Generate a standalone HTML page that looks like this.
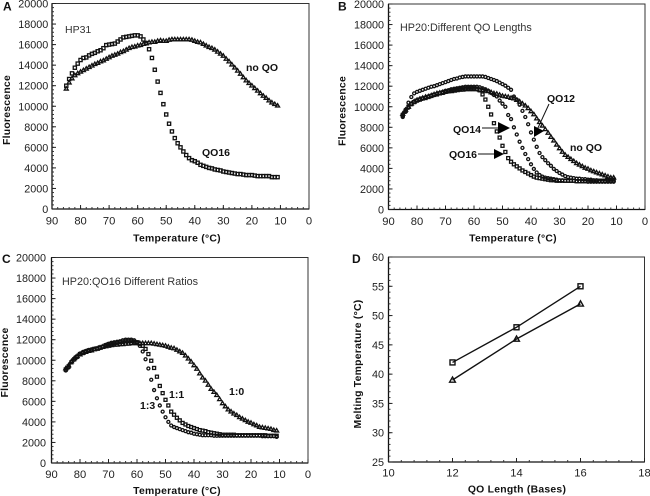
<!DOCTYPE html>
<html>
<head>
<meta charset="utf-8">
<title>Fluorescence melting curves</title>
<style>
html,body{margin:0;padding:0;background:#fff}
svg{display:block;font-family:"Liberation Sans",Arial,sans-serif;filter:blur(0.3px)}
</style>
</head>
<body>
<svg id="figure" width="650" height="496" viewBox="0 0 650 496" xmlns="http://www.w3.org/2000/svg"></svg>
<script>
const temperatures = [85,84,83,82,81,80,79,78,77,76,75,74,73,72,71,70,69,68,67,66,65,64,63,62,61,60,59,58,57,56,55,54,53,52,51,50,49,48,47,46,45,44,43,42,41,40,39,38,37,36,35,34,33,32,31,30,29,28,27,26,25,24,23,22,21,20,19,18,17,16,15,14,13,12,11];
const fluorescenceTicks = [0,2000,4000,6000,8000,10000,12000,14000,16000,18000,20000];
const temperatureTicks = [90,80,70,60,50,40,30,20,10,0];

const hp31NoQo = [11700,12300,12700,13000,13200,13350,13500,13650,13800,13950,14100,14200,14350,14450,14600,14750,14900,15000,15100,15250,15350,15500,15650,15750,15800,15900,15950,16050,16100,16200,16250,16250,16350,16400,16350,16350,16450,16500,16500,16500,16500,16500,16500,16500,16450,16350,16250,16200,16050,15900,15750,15650,15500,15300,15100,14900,14600,14350,14050,13750,13450,13150,12800,12500,12250,12000,11750,11500,11250,11000,10800,10550,10350,10200,10050];
const hp31Qo16 = [12000,12650,13200,13750,14150,14500,14700,14750,14950,15100,15200,15350,15450,15650,15950,16000,16050,16100,16300,16500,16700,16750,16800,16850,16900,16900,16800,16500,16150,15550,14700,13550,12400,11300,10200,9200,8300,7550,6900,6400,6000,5600,5250,4950,4750,4650,4500,4300,4200,4100,4000,3950,3850,3800,3750,3650,3600,3550,3500,3450,3400,3400,3350,3300,3300,3300,3250,3200,3200,3200,3200,3200,3100,3100,3100];

const hp20NoQo = [9300,9700,10000,10300,10500,10650,10750,10850,10950,11000,11100,11200,11300,11350,11400,11450,11500,11500,11550,11600,11650,11650,11700,11700,11700,11700,11700,11650,11600,11550,11500,11400,11300,11250,11150,11050,11000,10950,10850,10800,10650,10500,10300,10100,9850,9550,9250,8850,8500,8150,7800,7450,7050,6700,6300,5950,5600,5300,5100,4900,4700,4500,4350,4200,4050,3950,3800,3700,3600,3500,3400,3300,3200,3100,3100];
const hp20Qo12 = [9100,9700,10400,10950,11300,11450,11550,11650,11750,11850,11950,12000,12100,12200,12300,12400,12500,12600,12700,12750,12850,12900,12950,12950,12950,12950,12950,12950,12950,12900,12800,12700,12600,12500,12350,12200,12050,11850,11650,11000,10700,10200,9600,9000,8300,7500,6800,6100,5500,5100,4800,4500,4250,3950,3750,3550,3400,3250,3150,3100,3050,3000,3000,2950,2950,2900,2900,2850,2850,2800,2800,2800,2750,2750,2750];
const hp20Qo14 = [9000,9500,9900,10300,10500,10600,10700,10800,10900,11000,11050,11150,11250,11350,11450,11550,11600,11700,11750,11800,11850,11900,11950,11950,11950,11950,11950,11900,11800,11700,11550,11350,11150,11000,10600,10300,10000,9200,8800,8000,7300,6600,6000,5400,4900,4400,3950,3600,3350,3200,3100,3050,3000,2950,2900,2850,2850,2800,2800,2800,2800,2750,2750,2750,2750,2700,2700,2700,2700,2700,2700,2700,2700,2700,2700];
const hp20Qo16 = [9200,9600,10000,10250,10450,10600,10700,10800,10850,10950,11050,11150,11200,11300,11350,11450,11500,11600,11650,11700,11750,11800,11800,11850,11850,11800,11750,11600,11200,10700,10000,9250,8400,7600,7000,6200,5600,5000,4650,4400,4200,4000,3800,3650,3500,3350,3200,3100,3050,3000,2950,2900,2850,2850,2800,2800,2800,2800,2800,2800,2800,2750,2750,2750,2750,2750,2800,2800,2800,2800,2800,2800,2850,2900,2900];

const ratio10 = [9200,9500,9900,10200,10400,10550,10700,10800,10900,10950,11050,11100,11200,11300,11350,11400,11450,11500,11500,11550,11550,11600,11600,11650,11650,11650,11650,11650,11650,11650,11650,11600,11550,11500,11450,11400,11300,11200,11150,11000,10850,10700,10450,10150,9850,9500,9150,8700,8300,8000,7600,7200,6900,6600,6200,5800,5500,5200,5000,4800,4650,4450,4300,4150,4000,3900,3750,3650,3500,3450,3400,3350,3300,3200,3150];
const ratio11 = [9100,9400,9800,10100,10350,10600,10700,10850,10950,11000,11100,11150,11250,11300,11450,11550,11600,11650,11700,11750,11800,11850,11850,11850,11800,11750,11600,11400,11100,10600,9950,9250,8400,7500,6800,6150,5600,5000,4700,4400,4150,3900,3750,3600,3500,3400,3300,3200,3150,3100,3000,2950,2900,2850,2800,2750,2750,2750,2750,2750,2700,2700,2700,2700,2700,2700,2700,2700,2700,2700,2700,2650,2650,2650,2650];
const ratio13 = [9000,9300,9800,10050,10300,10650,10800,10900,11000,11050,11100,11150,11200,11350,11500,11600,11700,11750,11800,11850,11950,12000,12000,12000,11950,11750,11400,10850,10100,9200,8100,7100,6300,5600,5000,4450,4000,3650,3500,3400,3300,3200,3100,3000,2950,2850,2800,2750,2700,2700,2700,2700,2650,2650,2650,2650,2650,2650,2650,2650,2650,2650,2650,2650,2650,2650,2650,2650,2650,2600,2600,2600,2600,2600,2550];

const qoLengths = [12,14,16];
const meltingSquares = [42,48,55];
const meltingTriangles = [39,46,52];
const lengthTicks = [10,12,14,16,18];
const meltingTicks = [25,30,35,40,45,50,55,60];

const NS = 'http://www.w3.org/2000/svg';
const fig = document.getElementById('figure');
const INK = '#111';

function add(parent, tag, attrs, text) {
  const el = document.createElementNS(NS, tag);
  for (const k in attrs) el.setAttribute(k, attrs[k]);
  if (text !== undefined) el.textContent = text;
  parent.appendChild(el);
  return el;
}

function drawMarker(g, shape, x, y, s, w) {
  let m;
  if (shape === 'square') {
    m = add(g, 'rect', {x: x - s, y: y - s, width: 2 * s, height: 2 * s, fill: 'none', stroke: INK, 'stroke-width': w});
  } else if (shape === 'triangle') {
    m = add(g, 'path', {d: `M${x} ${y - s - 0.5}L${x + s + 0.4} ${y + s - 0.3}L${x - s - 0.4} ${y + s - 0.3}Z`, fill: 'none', stroke: INK, 'stroke-width': w});
  } else {
    m = add(g, 'circle', {cx: x, cy: y, r: s, fill: 'none', stroke: INK, 'stroke-width': w});
  }
  
  
}

function drawPanel(cfg) {
  const p = add(fig, 'g', {});
  
  
  const sx = v => cfg.x0 + (v - cfg.xMin) / (cfg.xMax - cfg.xMin) * (cfg.x1 - cfg.x0);
  const sy = v => cfg.y1 - (v - cfg.yMin) / (cfg.yMax - cfg.yMin) * (cfg.y1 - cfg.y0);

  const frame = add(p, 'rect', {x: cfg.x0, y: cfg.y0, width: cfg.x1 - cfg.x0, height: cfg.y1 - cfg.y0, fill: '#fff', stroke: '#333', 'stroke-width': 1});
  
  
  const axisX = add(p, 'line', {x1: cfg.x0, x2: cfg.x1, y1: cfg.y1, y2: cfg.y1, stroke: '#111', 'stroke-width': 1.3});
  
  
  const axisY = add(p, 'line', {x1: cfg.x0, x2: cfg.x0, y1: cfg.y0, y2: cfg.y1, stroke: '#111', 'stroke-width': 1.3});
  
  

  for (let i = 0; i <= cfg.xMinorCount; i++) {
    const v = cfg.xMin + (cfg.xMax - cfg.xMin) * i / cfg.xMinorCount;
    add(p, 'line', {x1: sx(v), x2: sx(v), y1: cfg.y1, y2: cfg.y1 - 2, stroke: '#333', 'stroke-width': 1});
  }
  for (let i = 0; i <= cfg.yMinorCount; i++) {
    const v = cfg.yMin + (cfg.yMax - cfg.yMin) * i / cfg.yMinorCount;
    add(p, 'line', {x1: cfg.x0, x2: cfg.x0 + 2, y1: sy(v), y2: sy(v), stroke: '#333', 'stroke-width': 1});
  }
  cfg.xTicks.forEach(v => {
    add(p, 'line', {x1: sx(v), x2: sx(v), y1: cfg.y1, y2: cfg.y1 - 4, stroke: '#222', 'stroke-width': 1});
    const t = add(p, 'text', {x: sx(v), y: cfg.y1 + cfg.tickGap, 'text-anchor': 'middle', 'font-size': 11.2, fill: '#222'}, String(v));
    
    
  });
  cfg.yTicks.forEach(v => {
    add(p, 'line', {x1: cfg.x0, x2: cfg.x0 + 4, y1: sy(v), y2: sy(v), stroke: '#222', 'stroke-width': 1});
    const t = add(p, 'text', {x: cfg.x0 - cfg.yLabelGap, y: sy(v) + 4, 'text-anchor': 'end', 'font-size': 10.8, fill: '#222'}, String(v));
    
    
  });

  const xt = add(p, 'text', {x: cfg.xTitleX, y: cfg.xTitleY, 'text-anchor': 'middle', 'font-size': 10.4, 'font-weight': 'bold', 'letter-spacing': 0.25, fill: '#111'}, cfg.xTitle);
  
  
  const yt = add(p, 'text', {x: 0, y: 0, transform: `translate(${cfg.yTitleX} ${cfg.yTitleY}) rotate(-90)`, 'text-anchor': 'middle', 'font-size': 10.4, 'font-weight': 'bold', 'letter-spacing': 0.25, fill: '#111'}, cfg.yTitle);
  
  

  const pl = add(p, 'text', {x: cfg.letterX, y: cfg.letterY, 'font-size': 12, 'font-weight': 'bold', fill: '#111'}, cfg.letter);
  
  

  cfg.series.forEach(s => {
    const g = add(p, 'g', {});
    
    
    if (s.line) {
      const pts = s.values.map((v, i) => sx(s.xs[i]) + ',' + sy(v)).join(' ');
      add(g, 'polyline', {points: pts, fill: 'none', stroke: '#111', 'stroke-width': 1.4});
    }
    s.values.forEach((v, i) => drawMarker(g, s.shape, sx(s.xs[i]), sy(v), s.size, s.weight));
  });

  (cfg.labels || []).forEach(l => {
    const t = add(p, 'text', {x: l.x, y: l.y, 'font-size': l.size || 10.5, 'font-weight': l.bold ? 'bold' : 'normal', fill: l.bold ? '#111' : '#333'}, l.text);
    
    
  });
  (cfg.arrows || []).forEach(a => {
    const ln = add(p, 'line', {x1: a.x1, y1: a.y1, x2: a.x2, y2: a.y2, stroke: '#111', 'stroke-width': 1});
    
    
    const h = add(p, 'path', {d: a.head, fill: '#000'});
    
    
  });
}

const tempAxis = {xMin: 90, xMax: 0, yMin: 0, yMax: 20000, xMinorCount: 45, yMinorCount: 50, xTicks: temperatureTicks, yTicks: fluorescenceTicks, xTitle: 'Temperature (°C)', yTitle: 'Fluorescence'};

drawPanel(Object.assign({}, tempAxis, {
  name: 'panel-a-hp31', letter: 'A', letterX: 3, letterY: 10.5,
  x0: 52, x1: 309, y0: 3.5, y1: 209, tickGap: 15.5, yLabelGap: 3.7, xTitleX: 177, xTitleY: 241.5, yTitleX: 10, yTitleY: 110,
  series: [
    {name: 'series-no-qo', shape: 'triangle', size: 1.6, weight: 1.3, xs: temperatures, values: hp31NoQo},
    {name: 'series-qo16', shape: 'square', size: 1.6, weight: 1.3, xs: temperatures, values: hp31Qo16}
  ],
  labels: [
    {name: 'hp31-title', text: 'HP31', x: 65, y: 33},
    {name: 'no-qo-label', text: 'no QO', x: 246, y: 71, bold: true},
    {name: 'qo16-label', text: 'QO16', x: 202, y: 156, bold: true}
  ]
}));

drawPanel(Object.assign({}, tempAxis, {
  name: 'panel-b-different-lengths', letter: 'B', letterX: 338, letterY: 10.5,
  x0: 388.5, x1: 645, y0: 4, y1: 209.5, tickGap: 15.5, yLabelGap: 4.5, xTitleX: 513, xTitleY: 241.5, yTitleX: 345.5, yTitleY: 111,
  series: [
    {name: 'series-no-qo', shape: 'triangle', size: 1.6, weight: 1.3, xs: temperatures, values: hp20NoQo},
    {name: 'series-qo12', shape: 'circle', size: 1.5, weight: 1.3, xs: temperatures, values: hp20Qo12},
    {name: 'series-qo14', shape: 'circle', size: 1.5, weight: 1.3, xs: temperatures, values: hp20Qo14},
    {name: 'series-qo16', shape: 'square', size: 1.5, weight: 1.3, xs: temperatures, values: hp20Qo16}
  ],
  labels: [
    {name: 'hp20-lengths-title', text: 'HP20:Different QO Lengths', x: 400, y: 31, size: 10.8},
    {name: 'qo12-label', text: 'QO12', x: 547, y: 102, bold: true},
    {name: 'qo14-label', text: 'QO14', x: 453, y: 133, bold: true},
    {name: 'qo16-label', text: 'QO16', x: 449, y: 158, bold: true},
    {name: 'no-qo-label', text: 'no QO', x: 570, y: 151, bold: true}
  ],
  arrows: [
    {x1: 549, y1: 104, x2: 537, y2: 130, head: 'M534 137L534 126L544 131Z'},
    {x1: 482, y1: 128, x2: 499, y2: 128, head: 'M510 128L498 122L498 134Z'},
    {x1: 478, y1: 154, x2: 494, y2: 154, head: 'M504 154L494 149L494 159Z'}
  ]
}));

drawPanel(Object.assign({}, tempAxis, {
  name: 'panel-c-different-ratios', letter: 'C', letterX: 2, letterY: 263,
  x0: 51.5, x1: 308, y0: 257.5, y1: 463, tickGap: 15, yLabelGap: 5.5, xTitleX: 177, xTitleY: 494, yTitleX: 8, yTitleY: 362.5,
  series: [
    {name: 'series-ratio-1-0', shape: 'triangle', size: 1.6, weight: 1.3, xs: temperatures, values: ratio10},
    {name: 'series-ratio-1-1', shape: 'square', size: 1.5, weight: 1.3, xs: temperatures, values: ratio11},
    {name: 'series-ratio-1-3', shape: 'circle', size: 1.5, weight: 1.3, xs: temperatures, values: ratio13}
  ],
  labels: [
    {name: 'hp20-ratios-title', text: 'HP20:QO16 Different Ratios', x: 62, y: 285, size: 10.8},
    {name: 'ratio-1-0-label', text: '1:0', x: 229, y: 395, bold: true},
    {name: 'ratio-1-1-label', text: '1:1', x: 169, y: 398, bold: true},
    {name: 'ratio-1-3-label', text: '1:3', x: 140, y: 409, bold: true}
  ]
}));

drawPanel({
  name: 'panel-d-melting-temperature', letter: 'D', letterX: 352, letterY: 263,
  x0: 388.5, x1: 644.5, y0: 257, y1: 462, xMin: 10, xMax: 18, yMin: 25, yMax: 60, xMinorCount: 20, yMinorCount: 35,
  xTicks: lengthTicks, yTicks: meltingTicks, xTitle: 'QO Length (Bases)', yTitle: 'Melting Temperature (°C)',
  tickGap: 14.5, yLabelGap: 4.5, xTitleX: 517, xTitleY: 492.5, yTitleX: 361, yTitleY: 364,
  series: [
    {name: 'series-melting-squares', shape: 'square', size: 2.5, weight: 1.4, line: true, xs: qoLengths, values: meltingSquares},
    {name: 'series-melting-triangles', shape: 'triangle', size: 2.5, weight: 1.4, line: true, xs: qoLengths, values: meltingTriangles}
  ]
});
</script>
</body>
</html>
